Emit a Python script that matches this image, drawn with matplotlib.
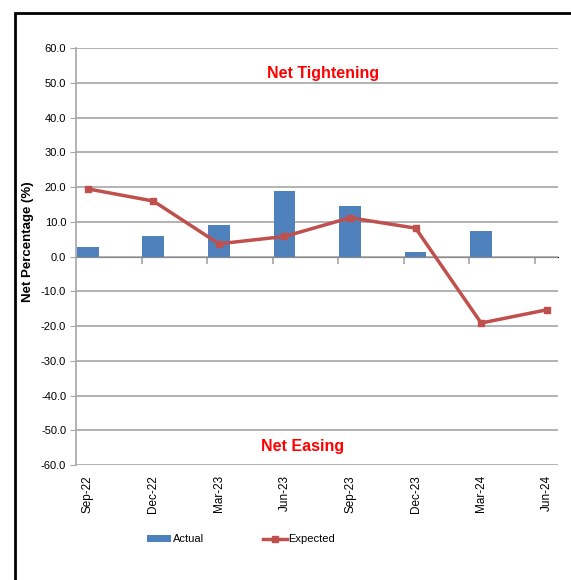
import numpy as np
import matplotlib.pyplot as plt
from matplotlib.patches import Rectangle

# survey quarters
quarters = ["Sep-22", "Dec-22", "Mar-23", "Jun-23", "Sep-23", "Dec-23", "Mar-24", "Jun-24"]
actual = [2.9, 5.8, 9.2, 19.0, 14.7, 1.4, 7.4, np.nan]
expected = [19.5, 16.0, 3.7, 5.8, 11.2, 8.2, -19.1, -15.3]
y_ticks = np.arange(-60, 61, 10)

plt.rcParams["font.family"] = ["Liberation Sans", "DejaVu Sans"]

fig = plt.figure(figsize=(5.71, 5.8), dpi=100)
ax = fig.add_axes([0.133, 0.198, 0.844, 0.719])

x = np.arange(len(quarters))
bars = ax.bar(x, actual, width=0.33, color="#4F81BD", label="Actual", zorder=2)
line, = ax.plot(x, expected, color="#C0504D", linewidth=2.5, marker="s", markersize=5,
                label="Expected", zorder=3)

ax.set_ylim(-60, 60)
ax.set_xlim(-0.18, 7.17)
ax.set_yticks(y_ticks)
ax.set_yticklabels([f"{v:.1f}" for v in y_ticks], fontsize=8)
ax.yaxis.grid(True, color="#A6A6A6", linewidth=1.2, zorder=0)
ax.set_axisbelow(True)

ax.set_xticks(x)
ax.set_xticklabels(quarters, rotation=90, fontsize=8.5)
ax.tick_params(axis="x", length=0, pad=7)
ax.tick_params(axis="y", length=4, color="#A6A6A6", pad=3)

for s in ["top", "right", "bottom"]:
    ax.spines[s].set_visible(False)
ax.spines["left"].set_color("#A6A6A6")
ax.spines["left"].set_linewidth(1.2)

# category boundary ticks on the zero line
sec = ax.secondary_xaxis(0.5)
sec.set_xticks(x[:-1] + 0.82)
sec.set_xticklabels([])
sec.tick_params(length=5, color="#A6A6A6", width=1.2, direction="in")
sec.spines["bottom"].set_visible(False)

ax.set_ylabel("Net Percentage (%)", fontsize=9.5, fontweight="bold")
ax.yaxis.set_label_coords(-0.087, 0.535)

ax.text(0.512, 0.94, "Net Tightening", transform=ax.transAxes, color="red",
        fontsize=11.5, fontweight="bold", ha="center", va="center")
ax.text(0.47, 0.045, "Net Easing", transform=ax.transAxes, color="red",
        fontsize=11.5, fontweight="bold", ha="center", va="center")

fig.legend(handles=[bars, line], loc="center", bbox_to_anchor=(0.422, 0.07), ncol=2,
           frameon=False, fontsize=8, handlelength=2.2, handletextpad=0.1,
           columnspacing=5.3)

# outer frame of the report figure
fig.patches.append(Rectangle((15 / 571, -0.1), 1.2, 1 - 13 / 580 + 0.1,
                             transform=fig.transFigure, fill=False,
                             edgecolor="black", linewidth=2))

fig.savefig("out.png", dpi=100)
